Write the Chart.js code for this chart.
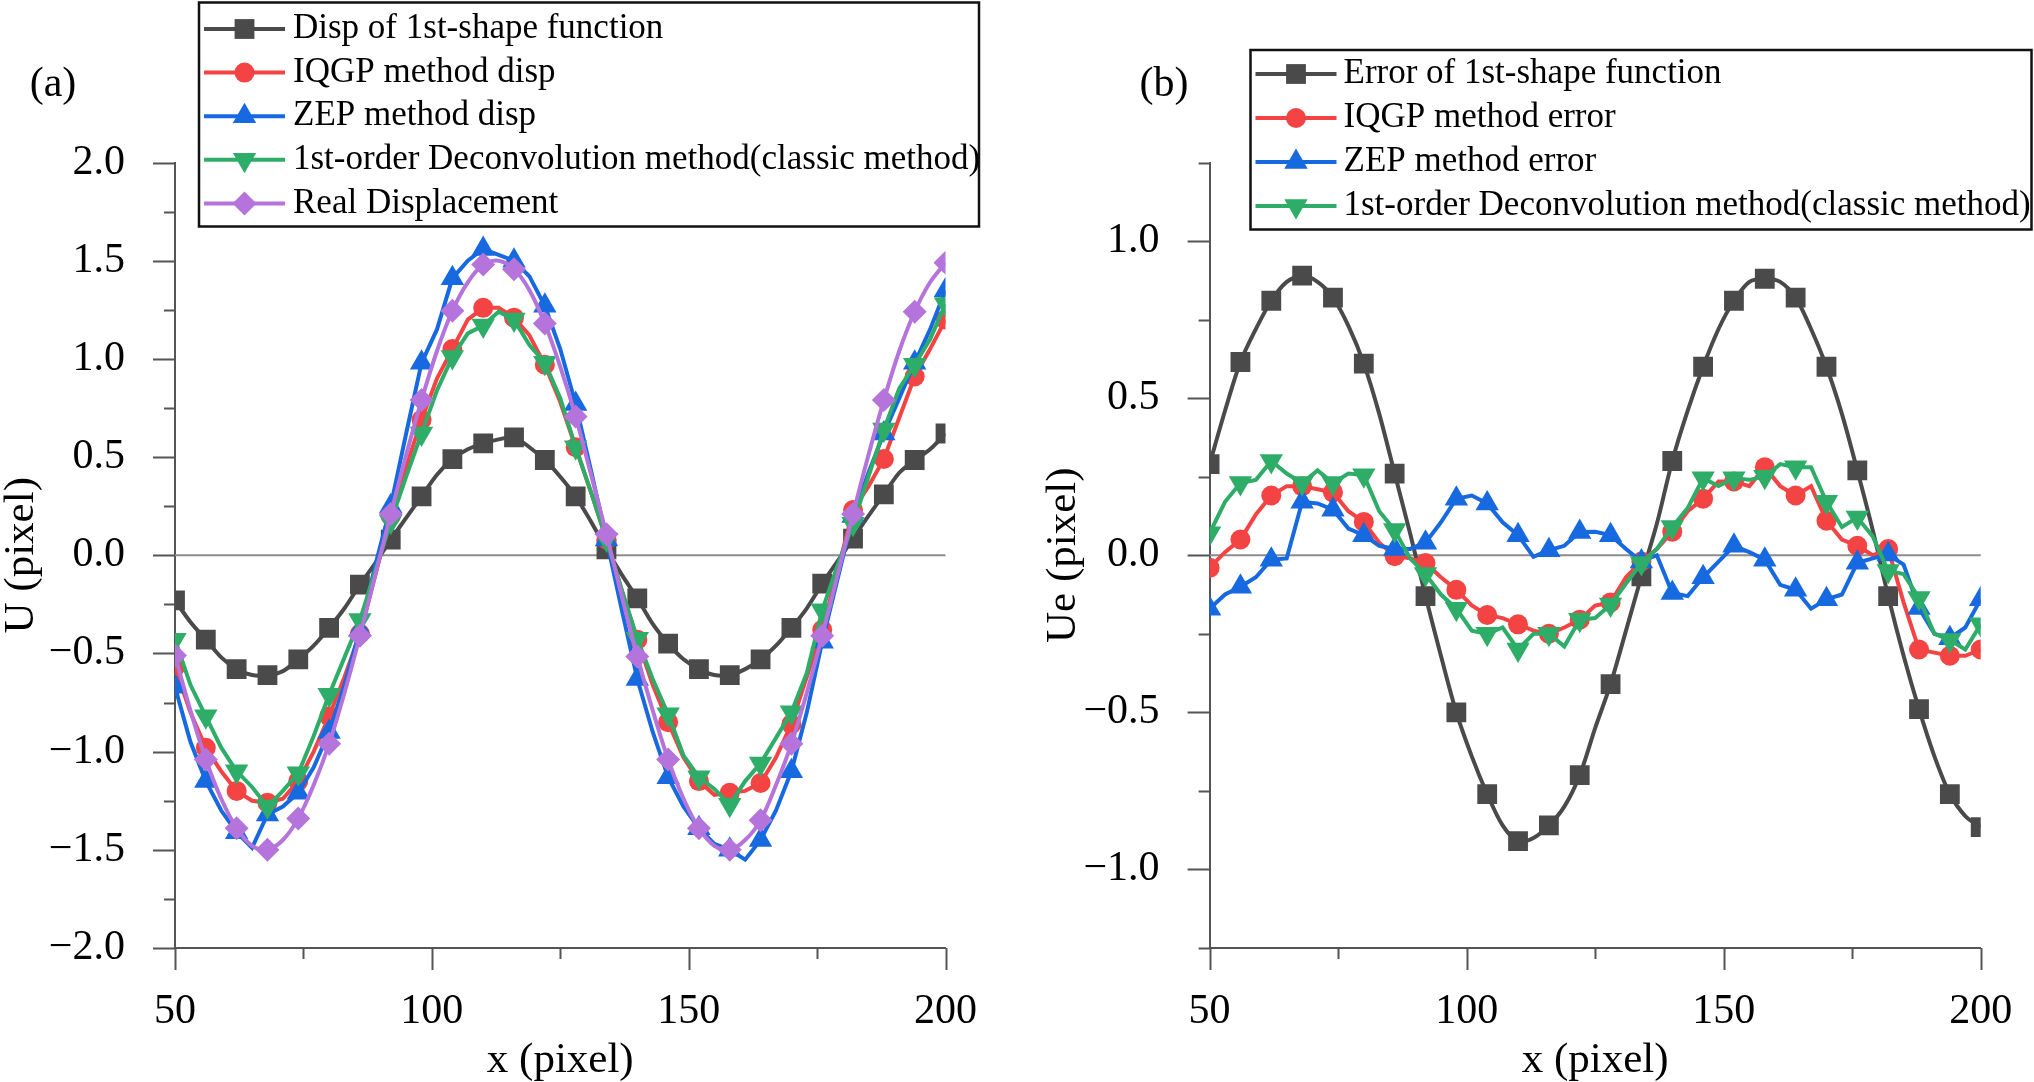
<!DOCTYPE html>
<html>
<head>
<meta charset="utf-8">
<script src="https://cdn.jsdelivr.net/npm/chart.js@4.4.1/dist/chart.umd.min.js"></script>
<style>
html, body { margin: 0; padding: 0; background: #fff; }
#wrap { position: relative; width: 2034px; height: 1082px; overflow: hidden; }
.panel { position: absolute; top: 0; width: 1017px; height: 1082px; }
</style>
</head>
<body>
<div id="wrap">
  <div class="panel" style="left:0"><canvas id="chartA"></canvas></div>
  <div class="panel" style="left:1017px"><canvas id="chartB"></canvas></div>
</div>
<script>
// ----------- Data ----------- //
const xPixel = [
  50, 53, 56, 59, 62, 65, 68, 71, 74, 77,
  80, 83, 86, 89, 92, 95, 98, 101, 104, 107,
  110, 113, 116, 119, 122, 125, 128, 131, 134, 137,
  140, 143, 146, 149, 152, 155, 158, 161, 164, 167,
  170, 173, 176, 179, 182, 185, 188, 191, 194, 197,
  200
];

// (a) displacement
const dispShape = [
  -0.23, -0.34, -0.43, -0.52, -0.58, -0.61, -0.61, -0.59, -0.53, -0.46,
  -0.37, -0.27, -0.15, -0.04, 0.08, 0.19, 0.30, 0.41, 0.49, 0.54,
  0.57, 0.59, 0.60, 0.55, 0.485, 0.40, 0.30, 0.17, 0.03, -0.10,
  -0.22, -0.35, -0.45, -0.53, -0.58, -0.61, -0.61, -0.58, -0.53, -0.46,
  -0.37, -0.27, -0.145, -0.03, 0.085, 0.20, 0.31, 0.42, 0.485, 0.54,
  0.62
];
const dispIQGP = [
  -0.57, -0.80, -0.98, -1.10, -1.20, -1.25, -1.26, -1.24, -1.15, -1.00,
  -0.82, -0.62, -0.40, -0.10, 0.20, 0.45, 0.69, 0.90, 1.05, 1.20,
  1.26, 1.26, 1.21, 1.12, 0.97, 0.78, 0.55, 0.32, 0.08, -0.18,
  -0.43, -0.66, -0.85, -1.03, -1.15, -1.22, -1.21, -1.20, -1.16, -1.03,
  -0.86, -0.62, -0.38, -0.08, 0.23, 0.35, 0.49, 0.70, 0.91, 1.05,
  1.20
];
const dispZEP = [
  -0.67, -0.95, -1.15, -1.30, -1.41, -1.49, -1.32, -1.28, -1.21, -1.08,
  -0.90, -0.66, -0.38, -0.05, 0.25, 0.62, 0.98, 1.15, 1.41, 1.50,
  1.56, 1.53, 1.50, 1.42, 1.27, 1.05, 0.77, 0.43, 0.08, -0.28,
  -0.63, -0.90, -1.13, -1.28, -1.39, -1.47, -1.50, -1.55, -1.45, -1.30,
  -1.10, -0.80, -0.44, -0.12, 0.20, 0.42, 0.62, 0.80, 0.98, 1.15,
  1.35
];
const dispDeconv = [
  -0.43, -0.66, -0.82, -0.98, -1.10, -1.18, -1.28, -1.20, -1.11, -0.92,
  -0.71, -0.52, -0.33, -0.08, 0.17, 0.40, 0.62, 0.84, 1.01, 1.13,
  1.17, 1.24, 1.20, 1.07, 0.98, 0.80, 0.55, 0.32, 0.08, -0.18,
  -0.425, -0.63, -0.81, -1.02, -1.13, -1.19, -1.27, -1.15, -1.06, -0.93,
  -0.80, -0.60, -0.28, -0.05, 0.16, 0.40, 0.64, 0.85, 0.97, 1.10,
  1.28
];
const dispReal = [
  -0.51, -0.79, -1.04, -1.24, -1.39, -1.48, -1.50, -1.45, -1.34, -1.17,
  -0.96, -0.70, -0.41, -0.10, 0.21, 0.51, 0.79, 1.04, 1.245, 1.39,
  1.48, 1.50, 1.457, 1.35, 1.18, 0.96, 0.706, 0.41, 0.107, -0.21,
  -0.515, -0.79, -1.04, -1.24, -1.39, -1.48, -1.50, -1.45, -1.35, -1.17,
  -0.96, -0.70, -0.41, -0.10, 0.21, 0.51, 0.79, 1.04, 1.24, 1.39,
  1.49
];

// (b) error
const errShape = [
  0.29, 0.46, 0.615, 0.72, 0.81, 0.87, 0.89, 0.87, 0.82, 0.73,
  0.61, 0.45, 0.26, 0.07, -0.13, -0.32, -0.50, -0.64, -0.76, -0.86,
  -0.91, -0.90, -0.86, -0.80, -0.70, -0.55, -0.41, -0.24, -0.067, 0.10,
  0.30, 0.46, 0.60, 0.72, 0.81, 0.87, 0.88, 0.87, 0.82, 0.72,
  0.60, 0.45, 0.27, 0.08, -0.13, -0.32, -0.49, -0.64, -0.76, -0.83,
  -0.865
];
const errIQGP = [
  -0.04, 0.01, 0.05, 0.13, 0.19, 0.22, 0.22, 0.21, 0.20, 0.14,
  0.106, 0.04, -0.003, -0.01, -0.025, -0.07, -0.11, -0.16, -0.19, -0.20,
  -0.22, -0.24, -0.25, -0.23, -0.205, -0.16, -0.15, -0.07, -0.02, 0.02,
  0.075, 0.14, 0.18, 0.235, 0.235, 0.22, 0.28, 0.22, 0.19, 0.22,
  0.11, 0.05, 0.03, 0.00, 0.02, -0.15, -0.30, -0.31, -0.32, -0.32,
  -0.30
];
const errZEP = [
  -0.17, -0.125, -0.10, -0.07, -0.014, -0.01, 0.17, 0.165, 0.145, 0.085,
  0.064, 0.03, 0.02, 0.02, 0.04, 0.105, 0.18, 0.19, 0.165, 0.105,
  0.064, -0.005, 0.016, 0.03, 0.074, 0.075, 0.064, 0.02, -0.02, 0.00,
  -0.12, -0.13, -0.07, -0.02, 0.03, 0.01, -0.014, -0.094, -0.11, -0.17,
  -0.14, -0.125, -0.024, -0.01, 0.002, -0.03, -0.168, -0.25, -0.264, -0.23,
  -0.14
];
const errDeconv = [
  0.07, 0.17, 0.23, 0.24, 0.30, 0.26, 0.23, 0.27, 0.23, 0.26,
  0.255, 0.14, 0.08, -0.01, -0.06, -0.125, -0.17, -0.24, -0.25, -0.23,
  -0.30, -0.25, -0.25, -0.29, -0.205, -0.20, -0.157, -0.09, -0.025, 0.02,
  0.09, 0.15, 0.245, 0.22, 0.245, 0.24, 0.25, 0.29, 0.28, 0.28,
  0.17, 0.09, 0.12, 0.06, -0.05, -0.06, -0.136, -0.25, -0.27, -0.30,
  -0.22
];

// ----------- Style ----------- //
const FONT = '"Liberation Serif", "Times New Roman", serif';
const AXIS_COLOR = '#555';
const C_BLACK = '#4a4a4a';
const C_RED = '#f44343';
const C_BLUE = '#1769e0';
const C_GREEN = '#2ead68';
const C_PURPLE = '#b474dc';

const fmtY = v => (v < -1e-9 ? '\u2212' : '') + Math.abs(v).toFixed(1);
const isMajorY = v => Math.abs(v * 2 - Math.round(v * 2)) < 1e-6;
const isMajorX = v => Math.abs(v % 50) < 1e-6;

const makeSet = (label, values, color, style, radius, rotation, order, smooth) => ({
    label: label,
    data: xPixel.map((x, i) => ({ x: x, y: values[i] })),
    borderColor: color,
    backgroundColor: color,
    borderWidth: 4,
    pointStyle: style,
    pointRotation: rotation,
    pointBorderWidth: 0,
    pointRadius: ctx => (ctx.dataIndex % 2 === 0 ? radius : 0),
    markRadius: radius,
    tension: smooth ? 0.3 : 0,
    order: order,
    clip: 0
});

// ----------- Plugins ----------- //
const frame = {
    id: 'frame',
    beforeDatasetsDraw(chart) {
        const { ctx, chartArea: a, scales: { y } } = chart;
        const yz = y.getPixelForValue(0);
        ctx.save();
        ctx.strokeStyle = '#8c8c8c';
        ctx.lineWidth = 2;
        ctx.beginPath();
        ctx.moveTo(a.left, yz);
        ctx.lineTo(a.right, yz);
        ctx.stroke();
        ctx.restore();
    },
    afterDraw(chart) {
        const { ctx, chartArea: a, scales: { x, y } } = chart;
        ctx.save();
        ctx.strokeStyle = AXIS_COLOR;
        ctx.lineWidth = 2;
        ctx.beginPath();
        y.ticks.forEach(t => {
            const py = Math.round(y.getPixelForValue(t.value)) + 0.5;
            ctx.moveTo(a.left, py);
            ctx.lineTo(a.left - (isMajorY(t.value) ? 22 : 11), py);
        });
        x.ticks.forEach(t => {
            const px = Math.round(x.getPixelForValue(t.value)) + 0.5;
            ctx.moveTo(px, a.bottom);
            ctx.lineTo(px, a.bottom + (isMajorX(t.value) ? 22 : 11));
        });
        ctx.stroke();
        ctx.restore();
    }
};

const boxLegend = {
    id: 'boxLegend',
    afterDraw(chart, args, o) {
        const ctx = chart.ctx;
        ctx.save();
        ctx.fillStyle = '#fff';
        ctx.fillRect(o.x, o.y, o.w, o.h);
        ctx.strokeStyle = '#111';
        ctx.lineWidth = 2.5;
        ctx.strokeRect(o.x, o.y, o.w, o.h);
        chart.data.datasets.forEach((ds, i) => {
            const cy = o.y + o.first + i * o.row;
            ctx.strokeStyle = ds.borderColor;
            ctx.lineWidth = ds.borderWidth;
            ctx.beginPath();
            ctx.moveTo(o.x + o.line0, cy);
            ctx.lineTo(o.x + o.line1, cy);
            ctx.stroke();
            ctx.fillStyle = ds.backgroundColor;
            Chart.helpers.drawPoint(ctx, {
                pointStyle: ds.pointStyle,
                rotation: ds.pointRotation,
                radius: ds.markRadius,
                borderWidth: 0
            }, o.x + (o.line0 + o.line1) / 2, cy);
            ctx.fillStyle = '#000';
            ctx.font = o.size + 'px ' + FONT;
            ctx.textBaseline = 'middle';
            ctx.textAlign = 'left';
            ctx.fillText(ds.label, o.x + o.text, cy);
        });
        ctx.restore();
    }
};

const panelLabel = {
    id: 'panelLabel',
    afterDraw(chart, args, o) {
        const ctx = chart.ctx;
        ctx.save();
        ctx.fillStyle = '#000';
        ctx.font = '42px ' + FONT;
        ctx.textAlign = 'center';
        ctx.textBaseline = 'middle';
        ctx.fillText(o.text, o.x, o.y);
        ctx.restore();
    }
};

// ----------- Chart builder ----------- //
const buildChart = (id, datasets, yMin, yMax, yTitle, yWidth, padLeft, padRight, legend, label) => {
    return new Chart(document.getElementById(id), {
        type: 'line',
        data: { datasets: datasets },
        plugins: [frame, boxLegend, panelLabel],
        options: {
            responsive: true,
            maintainAspectRatio: false,
            animation: false,
            events: [],
            layout: { padding: { left: padLeft, right: padRight, top: 162.5, bottom: 0 } },
            plugins: {
                legend: { display: false },
                tooltip: { enabled: false },
                boxLegend: legend,
                panelLabel: label
            },
            scales: {
                x: {
                    type: 'linear',
                    min: 50,
                    max: 200,
                    grid: { display: false },
                    border: { display: true, color: AXIS_COLOR, width: 2 },
                    ticks: {
                        stepSize: 25,
                        autoSkip: false,
                        maxRotation: 0,
                        padding: 31,
                        color: '#000',
                        font: { family: FONT, size: 42 },
                        callback: v => (isMajorX(v) ? String(v) : '')
                    },
                    title: {
                        display: true,
                        text: 'x (pixel)',
                        color: '#000',
                        padding: { top: 0, bottom: 0 },
                        font: { family: FONT, size: 43, lineHeight: 1 }
                    },
                    afterFit: scale => {
                        scale.height = 134;
                        scale.paddingLeft = 0;
                        scale.paddingRight = 0;
                    }
                },
                y: {
                    min: yMin,
                    max: yMax,
                    grid: { display: false },
                    border: { display: true, color: AXIS_COLOR, width: 2 },
                    ticks: {
                        stepSize: 0.25,
                        autoSkip: false,
                        padding: 42,
                        color: '#000',
                        font: { family: FONT, size: 42 },
                        callback: v => (isMajorY(v) ? fmtY(v) : '')
                    },
                    title: {
                        display: true,
                        text: yTitle,
                        color: '#000',
                        padding: { top: 0, bottom: 0 },
                        font: { family: FONT, size: 43, lineHeight: 1 }
                    },
                    afterFit: scale => {
                        scale.width = yWidth;
                        scale.paddingTop = 0;
                        scale.paddingBottom = 0;
                    }
                }
            }
        }
    });
};

buildChart('chartA', [
    makeSet('Disp of 1st-shape function', dispShape, C_BLACK, 'rect', 14, 0, 5, true),
    makeSet('IQGP method disp', dispIQGP, C_RED, 'circle', 10, 0, 4, false),
    makeSet('ZEP method disp', dispZEP, C_BLUE, 'triangle', 13.5, 0, 3, false),
    makeSet('1st-order Deconvolution method(classic method)', dispDeconv, C_GREEN, 'triangle', 13.5, 180, 2, false),
    makeSet('Real Displacement', dispReal, C_PURPLE, 'rectRot', 12, 0, 1, true)
], -2, 2, 'U (pixel)', 175, 0, 71.5,
    { x: 199, y: 2.5, w: 780, h: 224, first: 26.5, row: 43.6, line0: 5, line1: 86, text: 94, size: 35 },
    { text: '(a)', x: 53, y: 85 });

buildChart('chartB', [
    makeSet('Error of 1st-shape function', errShape, C_BLACK, 'rect', 14, 0, 4, true),
    makeSet('IQGP method error', errIQGP, C_RED, 'circle', 10, 0, 3, false),
    makeSet('ZEP method error', errZEP, C_BLUE, 'triangle', 13.5, 0, 2, false),
    makeSet('1st-order Deconvolution method(classic method)', errDeconv, C_GREEN, 'triangle', 13.5, 180, 1, false)
], -1.25, 1.25, 'Ue (pixel)', 167.6, 25, 53.3,
    { x: 233.5, y: 50, w: 781, h: 179.5, first: 24, row: 44, line0: 5, line1: 86, text: 93, size: 35 },
    { text: '(b)', x: 147, y: 85 });
</script>
</body>
</html>
